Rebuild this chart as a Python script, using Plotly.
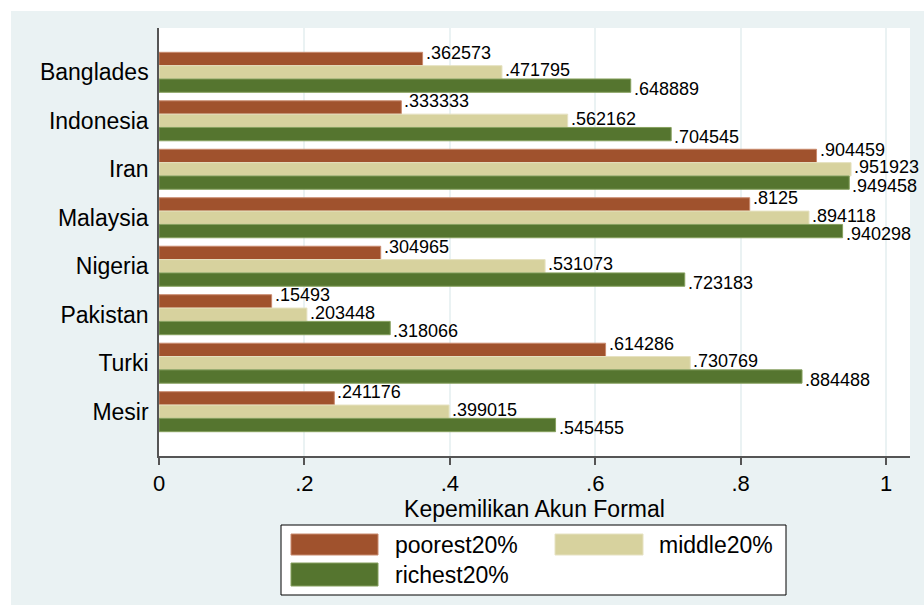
import plotly.graph_objects as go

# ---- data ----
countries = ["Banglades", "Indonesia", "Iran", "Malaysia", "Nigeria", "Pakistan", "Turki", "Mesir"]
poorest = [0.362573, 0.333333, 0.904459, 0.8125, 0.304965, 0.15493, 0.614286, 0.241176]
middle = [0.471795, 0.562162, 0.951923, 0.894118, 0.531073, 0.203448, 0.730769, 0.399015]
richest = [0.648889, 0.704545, 0.949458, 0.940298, 0.723183, 0.318066, 0.884488, 0.545455]
series_names = ["poorest20%", "middle20%", "richest20%"]
x_tick_vals = [0, 0.2, 0.4, 0.6, 0.8, 1]
x_tick_text = ["0", ".2", ".4", ".6", ".8", "1"]
x_title = "Kepemilikan Akun Formal"

# ---- style ----
W, H = 924, 605
L, R, T, B = 159, 910, 28, 456          # plot area in pixels
colors = ["#A0522D", "#D7D29E", "#55752F"]
edge = ["#C98A6E", "#E6E2C2", "#86A05E"]
BG = "#EAF2F3"
FONT = "Liberation Sans, Arial, sans-serif"
label_shift = [6, 2, -3]
bargap = 0.175
barw = (1 - bargap) / 3


def px_x(p):
    return (p - L) / (R - L)


def px_y(p):
    return (B - p) / (B - T)


idx = list(range(len(countries)))
series = [poorest, middle, richest]

fig = go.Figure()
for k, (name, vals) in enumerate(zip(series_names, series)):
    fig.add_trace(go.Bar(
        x=vals, y=idx, orientation="h", name=name,
        marker=dict(color=colors[k], line=dict(color=edge[k], width=1)),
        showlegend=False, hoverinfo="x+name",
    ))

annotations = []
for k, vals in enumerate(series):
    for i, v in enumerate(vals):
        txt = f"{v:.6g}"
        if txt.startswith("0."):
            txt = txt[1:]
        annotations.append(dict(
            x=v, y=i + (k - 1) * barw, xref="x", yref="y", text=txt,
            showarrow=False, xanchor="left", yanchor="middle", xshift=1,
            yshift=label_shift[k], font=dict(size=18, color="black", family=FONT),
        ))

shapes = [
    # white outer strips (left, top)
    dict(type="rect", xref="paper", yref="paper", x0=px_x(0), x1=px_x(11), y0=px_y(0), y1=px_y(H),
         fillcolor="white", line=dict(width=0), layer="above"),
    dict(type="rect", xref="paper", yref="paper", x0=px_x(0), x1=px_x(W), y0=px_y(0), y1=px_y(11),
         fillcolor="white", line=dict(width=0), layer="above"),
    # legend box
    dict(type="rect", xref="paper", yref="paper", x0=px_x(281), x1=px_x(786), y0=px_y(525), y1=px_y(595),
         fillcolor="white", line=dict(color="black", width=1), layer="above"),
]

legend_items = [
    (291, 378, 534, 555, 393),
    (555, 643, 534, 555, 657),
    (291, 378, 563, 586, 393),
]
for k, (x0, x1, y0, y1, tx) in enumerate(legend_items):
    shapes.append(dict(type="rect", xref="paper", yref="paper",
                       x0=px_x(x0), x1=px_x(x1), y0=px_y(y0), y1=px_y(y1),
                       fillcolor=colors[k], line=dict(color=edge[k], width=1), layer="above"))
    annotations.append(dict(x=px_x(tx), y=px_y((y0 + y1) / 2), xref="paper", yref="paper",
                            text=series_names[k], showarrow=False, xanchor="left", yanchor="middle",
                            font=dict(size=23, color="black", family=FONT)))

fig.update_layout(
    width=W, height=H,
    margin=dict(l=L, r=W - R, t=T, b=H - B, pad=0),
    paper_bgcolor=BG, plot_bgcolor="white",
    barmode="group", bargap=bargap, bargroupgap=0,
    font=dict(family=FONT, color="black"),
    shapes=shapes, annotations=annotations,
    showlegend=False,
)
fig.update_xaxes(
    range=[0, (R - L) / 727], tickvals=x_tick_vals, ticktext=x_tick_text,
    showgrid=True, gridcolor=BG, gridwidth=2, zeroline=False,
    showline=True, linecolor="#555555", linewidth=1.5,
    ticks="outside", ticklen=7, tickcolor="#555555", tickwidth=1.5,
    tickfont=dict(size=22, color="black", family=FONT),
    title=dict(text=x_title, font=dict(size=23, color="black", family=FONT), standoff=0),
)
fig.update_yaxes(
    range=[len(countries) - 1 + 0.914, -0.914], tickvals=idx, ticktext=countries,
    showgrid=False, zeroline=False, showline=True, linecolor="#555555", linewidth=1.5,
    ticks="", ticklabelstandoff=4,
    tickfont=dict(size=23, color="black", family=FONT),
)

fig.write_html(
    "out.html",
    config={"displayModeBar": False},
    post_script="document.body.style.margin='0';document.body.style.overflow='hidden';",
)
